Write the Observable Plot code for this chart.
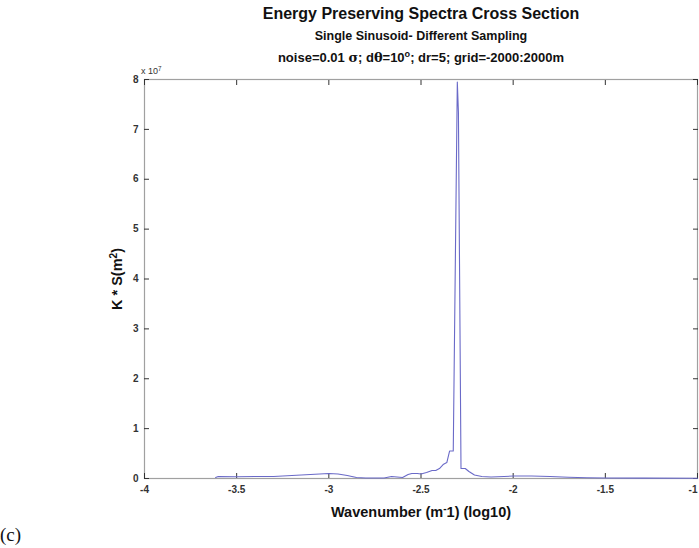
<!DOCTYPE html>
<html>
<head>
<meta charset="utf-8">
<script src="https://cdn.jsdelivr.net/npm/d3@7"></script>
<script src="https://cdn.jsdelivr.net/npm/@observablehq/plot@0.6"></script>
<style>
  html, body { margin: 0; padding: 0; background: #fff; }
  #chart { position: relative; width: 699px; height: 548px; }
</style>
</head>
<body>
<div id="chart"></div>
<script>
// Data (y in units of 1e7)
const wavenumber = [-3.614, -3.6, -3.5, -3.4, -3.3, -3.2, -3.1, -3.0, -2.95, -2.9, -2.85, -2.8, -2.75, -2.7, -2.66, -2.63, -2.6, -2.57, -2.55, -2.52, -2.5, -2.47, -2.44, -2.42, -2.4, -2.38, -2.36, -2.345, -2.325, -2.303, -2.297, -2.283, -2.26, -2.24, -2.21, -2.17, -2.12, -2.05, -2.0, -1.9, -1.8, -1.7, -1.6, -1.5, -1.3, -1.0];
const spectrum   = [0.02, 0.04, 0.035, 0.04, 0.04, 0.06, 0.08, 0.1, 0.09, 0.06, 0.02, 0.01, 0.01, 0.01, 0.04, 0.03, 0.02, 0.08, 0.1, 0.1, 0.09, 0.12, 0.16, 0.16, 0.2, 0.28, 0.32, 0.55, 0.55, 7.95, 7.35, 0.2, 0.2, 0.14, 0.07, 0.04, 0.03, 0.04, 0.05, 0.05, 0.04, 0.025, 0.015, 0.01, 0.008, 0.006];
const xTicks = [-4, -3.5, -3, -2.5, -2, -1.5, -1];
const yTicks = [0, 1, 2, 3, 4, 5, 6, 7, 8];

const data = wavenumber.map((x, i) => ({x, y: spectrum[i]}));
const fmt = d => String(d);
const tickCol = "#333";
const font = "Liberation Sans, Arial, sans-serif";
const xMax = d3.max(xTicks);

const plot = Plot.plot({
  width: 699,
  height: 548,
  marginLeft: 144,
  marginRight: 2,
  marginTop: 79,
  marginBottom: 70,
  style: {fontFamily: font, fontSize: "10px", color: "#222", background: "#fff"},
  x: {domain: [-4, -1], label: null},
  y: {domain: [0, 8], label: null},
  marks: [
    Plot.frame({stroke: "#a0a0a0", strokeWidth: 1.2}),
    Plot.axisX(xTicks.filter(d => d !== xMax), {anchor: "bottom", label: null, tickSize: 0, tickPadding: 7, tickFormat: fmt, fontSize: 10, fontWeight: "bold", fill: "#333"}),
    Plot.axisX([xMax], {anchor: "bottom", label: null, tickSize: 0, tickPadding: 7, tickFormat: fmt, textAnchor: "end", fontSize: 10, fontWeight: "bold", fill: "#333"}),
    Plot.axisX(xTicks, {anchor: "bottom", label: null, tickSize: -5, tickFormat: () => "", stroke: tickCol}),
    Plot.axisX(xTicks, {anchor: "top", label: null, tickSize: -5, tickFormat: () => "", stroke: tickCol}),
    Plot.axisY(yTicks, {anchor: "left", label: null, tickSize: 0, tickPadding: 6, tickFormat: fmt, fontSize: 10, fontWeight: "bold", fill: "#333"}),
    Plot.axisY(yTicks, {anchor: "left", label: null, tickSize: -5, tickFormat: () => "", stroke: tickCol}),
    Plot.axisY(yTicks, {anchor: "right", label: null, tickSize: -5, tickFormat: () => "", stroke: tickCol}),
    Plot.line(data, {x: "x", y: "y", stroke: "#6a6ac8", strokeWidth: 1.1})
  ]
});
document.getElementById("chart").appendChild(plot);

const svg = d3.select(plot);
const addText = (x, y, size, weight, anchor, parts, opts = {}) => {
  const t = svg.append("text")
    .attr("x", x).attr("y", y)
    .attr("text-anchor", anchor)
    .style("font-family", opts.family || font)
    .style("font-size", size + "px")
    .style("font-weight", weight)
    .attr("fill", opts.fill || "#111");
  if (opts.rotate) t.attr("transform", `rotate(-90 ${x} ${y})`);
  parts.forEach(p => {
    const ts = t.append("tspan").text(p.t);
    if (p.sup) ts.attr("baseline-shift", "super").style("font-size", (size * 0.7) + "px");
    if (p.family) ts.style("font-family", p.family);
  });
  return t;
};

addText(421, 19, 16, "bold", "middle", [{t: "Energy Preserving Spectra Cross Section"}]);
addText(421, 40, 12.5, "bold", "middle", [{t: "Single Sinusoid- Different Sampling"}]);
addText(421, 62, 13, "bold", "middle", [
  {t: "noise=0.01 "}, {t: "σ", family: "DejaVu Serif, serif"}, {t: "; d"}, {t: "θ", family: "DejaVu Serif, serif"},
  {t: "=10"}, {t: "o", sup: true}, {t: "; dr=5; grid=-2000:2000m"}
]);
addText(141, 74, 9, "normal", "start", [{t: "x 10"}, {t: "7", sup: true}], {fill: "#333"});
addText(421, 517, 14.5, "bold", "middle", [{t: "Wavenumber (m"}, {t: "-", sup: true}, {t: "1) (log10)"}]);
addText(122, 279, 14.5, "bold", "middle", [{t: "K * S(m"}, {t: "2", sup: true}, {t: ")"}], {rotate: true});
addText(0, 541, 19, "normal", "start", [{t: "(c)"}], {family: "Liberation Serif, Times New Roman, serif"});
</script>
</body>
</html>
